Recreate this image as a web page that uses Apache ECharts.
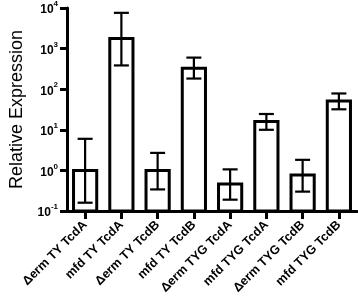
<!DOCTYPE html>
<html>
<head>
<meta charset="utf-8">
<script src="https://cdn.jsdelivr.net/npm/echarts@6/dist/echarts.min.js"></script>
<style>html,body{margin:0;padding:0;background:#fff}#c{width:358px;height:298px}</style>
</head>
<body>
<div id="c"></div>
<script>
const categories = ['Δerm TY TcdA','mfd TY TcdA','Δerm TY TcdB','mfd TY TcdB','Δerm TYG TcdA','mfd TYG TcdA','Δerm TYG TcdB','mfd TYG TcdB'];
const values = [1.0, 1780, 1.0, 330, 0.46, 16, 0.77, 51];
const errLow = [0.16, 385, 0.34, 183, 0.19, 10, 0.30, 32];
const errHigh = [6.0, 7600, 2.7, 600, 1.06, 24.5, 1.82, 78.5];
const yMin = 0.1, yMax = 10000;

const chart = echarts.init(document.getElementById('c'));
const barData = values.map((v, i) => [i, v]);
const errData = values.map((v, i) => [i, errLow[i], errHigh[i]]);

function renderBar(params, api) {
  const i = api.value(0), v = api.value(1);
  const top = api.coord([i, v]);
  const base = api.coord([i, yMin]);
  const w = api.size([1, 0])[0] * 0.64;
  return {
    type: 'rect',
    shape: { x: top[0] - w / 2, y: top[1], width: w, height: base[1] - top[1] },
    style: { fill: '#fff', stroke: '#000', lineWidth: 3 }
  };
}
function renderErr(params, api) {
  const i = api.value(0);
  const lo = api.coord([i, api.value(1)]);
  const hi = api.coord([i, api.value(2)]);
  const cw = 7.5;
  const st = { stroke: '#000', lineWidth: 2.2 };
  return {
    type: 'group',
    children: [
      { type: 'line', shape: { x1: lo[0], y1: lo[1], x2: hi[0], y2: hi[1] }, style: st },
      { type: 'line', shape: { x1: lo[0] - cw, y1: lo[1], x2: lo[0] + cw, y2: lo[1] }, style: st },
      { type: 'line', shape: { x1: hi[0] - cw, y1: hi[1], x2: hi[0] + cw, y2: hi[1] }, style: st }
    ]
  };
}

chart.setOption({
  animation: false,
  grid: { left: 50, right: 1, top: 6, bottom: 87 },
  xAxis: {
    type: 'category',
    data: categories,
    boundaryGap: true,
    axisLine: { lineStyle: { color: '#000', width: 3 } },
    axisTick: { show: true, alignWithLabel: true, length: 8, lineStyle: { color: '#000', width: 3 } },
    axisLabel: { rotate: 45, interval: 0, margin: 12, color: '#000', fontFamily: 'Liberation Sans, Arial', fontWeight: 'bold', fontSize: 12.5 }
  },
  yAxis: {
    type: 'log',
    logBase: 10,
    min: yMin,
    max: yMax,
    name: 'Relative Expression',
    nameLocation: 'middle',
    nameGap: 41,
    nameMoveOverlap: false,
    nameTextStyle: { color: '#000', fontFamily: 'Liberation Sans, Arial', fontSize: 18 },
    splitLine: { show: false },
    axisLine: { show: true, lineStyle: { color: '#000', width: 3 } },
    axisTick: { show: true, length: 7, lineStyle: { color: '#000', width: 3 } },
    minorTick: { show: false },
    axisLabel: {
      margin: 9,
      formatter: function (v) {
        const e = Math.round(Math.log10(v));
        return '{b|10}{s|' + e + '}';
      },
      rich: {
        b: { color: '#000', fontFamily: 'Liberation Sans, Arial', fontWeight: 'bold', fontSize: 12, lineHeight: 16, verticalAlign: 'bottom' },
        s: { color: '#000', fontFamily: 'Liberation Sans, Arial', fontWeight: 'bold', fontSize: 8, lineHeight: 9, verticalAlign: 'top' }
      }
    }
  },
  series: [
    { type: 'custom', renderItem: renderBar, data: barData, encode: { x: 0, y: 1 }, z: 2 },
    { type: 'custom', renderItem: renderErr, data: errData, encode: { x: 0, y: [1, 2] }, z: 3 }
  ]
});
</script>
</body>
</html>
